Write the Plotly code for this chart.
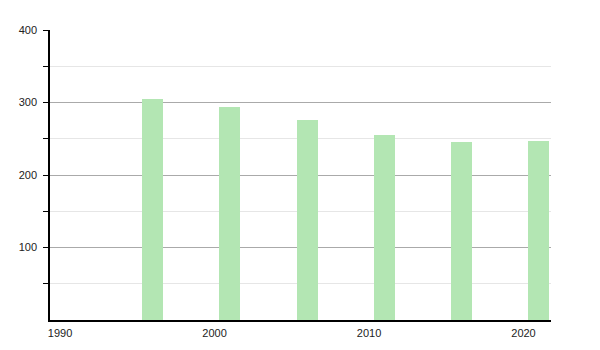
import plotly.graph_objects as go

years = [1996, 2001, 2006, 2011, 2016, 2021]
values = [305, 294, 276, 255, 245, 247]
x_ticks = [1990, 2000, 2010, 2020]
y_ticks = [100, 200, 300, 400]

fig = go.Figure()
fig.add_trace(go.Bar(x=years, y=values, width=1.36,
                     marker=dict(color="#b3e6b3", line=dict(width=0)),
                     hoverinfo="x+y"))

fig.update_layout(
    width=600, height=350,
    margin=dict(l=50, r=49, t=30, b=30),
    paper_bgcolor="white", plot_bgcolor="white",
    showlegend=False,
    font=dict(family="Liberation Sans, Arial, sans-serif", size=11, color="#222"),
    bargap=0,
)
fig.update_xaxes(
    range=[1989.35, 2021.78],
    tickvals=x_ticks, ticktext=[str(v) for v in x_ticks],
    showgrid=False, zeroline=False,
    showline=True, linecolor="black", linewidth=1.5,
    ticks="", ticklabelstandoff=2,
)
fig.update_yaxes(
    range=[0, 400],
    tickvals=y_ticks, ticktext=[str(v) for v in y_ticks],
    showgrid=True, gridcolor="#aaaaaa", gridwidth=1,
    zeroline=False,
    showline=True, linecolor="black", linewidth=1.5,
    ticks="outside", ticklen=5, tickcolor="black", tickwidth=1,
    ticklabelstandoff=4,
    minor=dict(tickvals=[50, 150, 250, 350], ticks="outside", ticklen=5,
               tickcolor="black", showgrid=True, gridcolor="#e6e6e6", gridwidth=1),
)

fig.write_html("out.html")
